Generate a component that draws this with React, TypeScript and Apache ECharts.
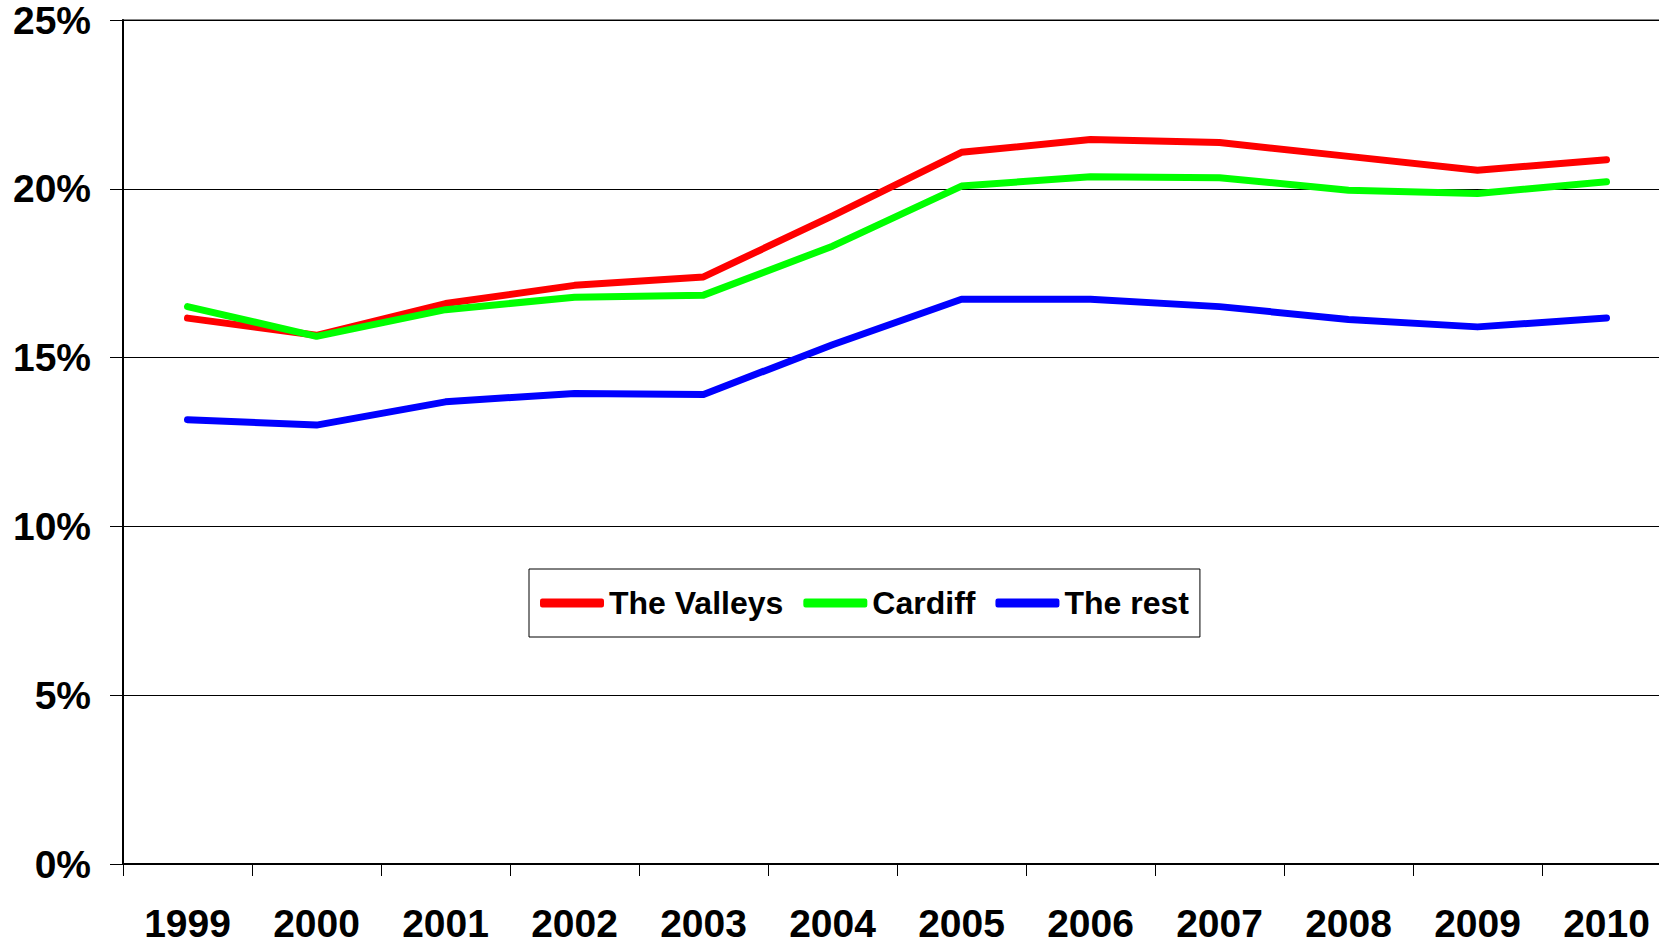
import React, { useEffect, useRef } from "react";
import * as echarts from "echarts";

const years = ["1999", "2000", "2001", "2002", "2003", "2004", "2005", "2006", "2007", "2008", "2009", "2010"];
const valleys = [16.17, 15.66, 16.6, 17.14, 17.39, 19.2, 21.08, 21.46, 21.37, 20.96, 20.55, 20.86];
const cardiff = [16.51, 15.63, 16.42, 16.79, 16.85, 18.3, 20.08, 20.36, 20.33, 19.96, 19.86, 20.21];
const theRest = [13.16, 13.0, 13.69, 13.94, 13.91, 15.38, 16.73, 16.73, 16.51, 16.13, 15.91, 16.17];

const FONT = "'Liberation Sans', Arial, sans-serif";

export default function App() {
  const ref = useRef<HTMLDivElement>(null);
  useEffect(() => {
    if (!ref.current) return;
    const chart = echarts.init(ref.current, undefined, { renderer: "svg" });
    const lineSeries = (name: string, data: number[], color: string) => ({
      name,
      type: "line",
      data,
      symbol: "none",
      color,
      itemStyle: { color },
      lineStyle: { color, width: 7, cap: "round", join: "round" },
    });
    chart.setOption({
      animation: false,
      backgroundColor: "#ffffff",
      grid: {
        left: 123,
        top: 20,
        height: 844,
        width: 1548,
        show: true,
        borderColor: "#888888",
        borderWidth: 2,
      },
      legend: {
        left: 529,
        top: 569,
        padding: [18, 11],
        borderColor: "#000000",
        borderWidth: 1,
        icon: "roundRect",
        itemWidth: 64,
        itemHeight: 9,
        itemGap: 20,
        textStyle: { fontFamily: FONT, fontWeight: "bold", fontSize: 32, color: "#000" },
        data: ["The Valleys", "Cardiff", "The rest"],
      },
      xAxis: {
        type: "category",
        data: years,
        boundaryGap: true,
        axisLine: { lineStyle: { color: "#000", width: 2 } },
        axisTick: { show: true, length: 12, lineStyle: { color: "#000", width: 1 } },
        axisLabel: { fontFamily: FONT, fontWeight: "bold", fontSize: 39, color: "#000", margin: 40 },
      },
      yAxis: {
        type: "value",
        min: 0,
        max: 25,
        interval: 5,
        axisLine: { show: true, lineStyle: { color: "#000", width: 2 } },
        axisTick: { show: true, length: 13, lineStyle: { color: "#000", width: 1 } },
        axisLabel: {
          fontFamily: FONT,
          fontWeight: "bold",
          fontSize: 39,
          lineHeight: 36,
          color: "#000",
          margin: 32,
          formatter: "{value}%",
        },
        splitLine: { show: true, lineStyle: { color: "#000", width: 1 } },
      },
      series: [
        lineSeries("The Valleys", valleys, "#ff0000"),
        lineSeries("Cardiff", cardiff, "#00ff00"),
        lineSeries("The rest", theRest, "#0000ff"),
      ],
    });
    return () => chart.dispose();
  }, []);
  return (
    <div style={{ position: "fixed", left: 0, top: 0, width: 1659, height: 944, overflow: "hidden", background: "#fff" }}>
      <div ref={ref} style={{ position: "absolute", left: 0, top: 0, width: 1690, height: 944 }} />
    </div>
  );
}
